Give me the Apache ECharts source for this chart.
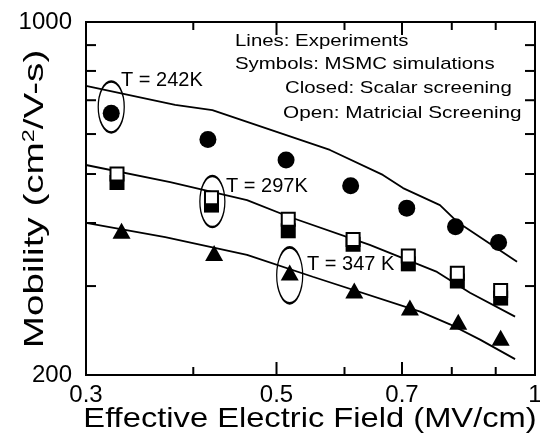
<!DOCTYPE html>
<html>
<head>
<meta charset="utf-8">
<script src="https://cdn.jsdelivr.net/npm/echarts@6/dist/echarts.min.js"></script>
<style>
  html, body { margin: 0; padding: 0; background: #fff; }
  #chart { width: 540px; height: 441px; }
</style>
</head>
<body>
<div id="chart"></div>
<script>
// ---- Simulated (MSMC) points: effective field in MV/cm, mobility in cm2/V-s ----
const fieldT242 = [0.321, 0.416, 0.513, 0.610, 0.709, 0.808, 0.907];
const fieldT297 = [0.326, 0.420, 0.516, 0.614, 0.712, 0.812, 0.912];
const fieldT347 = [0.330, 0.423, 0.518, 0.616, 0.715, 0.814, 0.912];

const mobT242Scalar    = [660, 585, 533, 474, 428, 393, 366];
const mobT297Scalar    = [481, 434, 386, 363, 332, 307, 284];
const mobT297Matricial = [500, 449, 407, 371, 344, 318, 294];
const mobT347Scalar    = [386, 349, 319, 294, 272, 255, 237];

// ---- Measured curves ----
const expFieldT242 = [0.3, 0.381, 0.421, 0.577, 0.665, 0.702, 0.775, 0.812, 0.953];
const expMobT242   = [747, 685, 669, 558, 498, 469, 434, 402, 335];
const expFieldT297 = [0.3, 0.376, 0.462, 0.518, 0.642, 0.769, 0.840, 0.948];
const expMobT297   = [521, 482, 444, 411, 362, 320, 291, 261];
const expFieldT347 = [0.3, 0.371, 0.462, 0.551, 0.735, 0.796, 0.863, 0.948];
const expMobT347   = [400, 375, 346, 313, 267, 252, 235, 215];

// ---- Ellipses that tag one point of each temperature ----
const tagField = [0.321, 0.421, 0.518];
const tagMob   = [679, 441, 315];

// ---- Axis ranges and ticks ----
const xRange = [0.3, 1];
const yRange = [200, 1000];
const xLabelValues = [0.3, 0.5, 0.7, 1];
const xMajorTicks  = [0.5, 0.7];
const xMinorTicks  = [0.4, 0.6, 0.8, 0.9];
const yLabelValues = [200, 1000];
const yTicks       = [300, 400, 500, 600, 700, 800, 900];

const FONT = "'Liberation Sans', Arial, Helvetica, sans-serif";
const lg = Math.log10;
const pts = (xs, ys) => xs.map((x, i) => [x, ys[i]]);
const labelOf = list => v => {
  const t = list.find(t => Math.abs(lg(t) - v) < 1e-9);
  return t === undefined ? '' : String(t);
};

// Label-only axes in log10 units over the same ranges as the data axes.
function labelAxis(range, position, labels, extra) {
  return {
    type: 'value',
    position: position,
    min: lg(range[0]),
    max: lg(range[1]),
    axisLine: { show: false, onZero: false },
    axisTick: { show: false },
    splitLine: { show: false },
    axisLabel: Object.assign({
      show: true,
      customValues: labels.map(lg),
      formatter: labelOf(labels),
      color: '#000',
      fontFamily: FONT,
      fontSize: 24
    }, extra)
  };
}

// Log axes that place the data.
const dataLog = (range, position) => ({
  type: 'log', logBase: 10, min: range[0], max: range[1], position: position,
  axisLine: { show: false, onZero: false }, axisTick: { show: false },
  axisLabel: { show: false }, splitLine: { show: false }, minorTick: { show: false }
});

const textEl = (x, y, text, size, sx) => ({
  type: 'text', x: x, y: y, scaleX: sx || 1,
  style: {
    text: text, fontFamily: FONT, fontSize: size, fill: '#000',
    align: 'left', verticalAlign: 'middle', textAlign: 'left', textVerticalAlign: 'middle'
  }
});

const chart = echarts.init(document.getElementById('chart'), null, { renderer: 'canvas' });

const scatterBase = { type: 'scatter', xAxisIndex: 0, yAxisIndex: 0 };
const lineBase = {
  type: 'line', xAxisIndex: 0, yAxisIndex: 0, symbol: 'none',
  lineStyle: { color: '#000', width: 1.8 }, z: 2
};

chart.setOption({
  animation: false,
  backgroundColor: '#fff',
  grid: { left: 86, right: 5, top: 22, bottom: 66, outerBoundsMode: 'none', containLabel: false },
  xAxis: [
    dataLog(xRange, 'bottom'),
    labelAxis(xRange, 'bottom', xLabelValues, { margin: 8 })
  ],
  yAxis: [
    dataLog(yRange, 'left'),
    labelAxis(yRange, 'left', yLabelValues, { margin: 14, padding: [0, 0, 10, 0] })
  ],
  series: [
    Object.assign({}, lineBase, { name: 'Experiment 242K', data: pts(expFieldT242, expMobT242) }),
    Object.assign({}, lineBase, { name: 'Experiment 297K', data: pts(expFieldT297, expMobT297) }),
    Object.assign({}, lineBase, { name: 'Experiment 347K', data: pts(expFieldT347, expMobT347) }),
    Object.assign({}, scatterBase, {
      name: 'MSMC 297K scalar', data: pts(fieldT297, mobT297Scalar),
      symbol: 'rect', symbolSize: 15, itemStyle: { color: '#000', opacity: 1 }, z: 3
    }),
    Object.assign({}, scatterBase, {
      name: 'MSMC 297K matricial', data: pts(fieldT297, mobT297Matricial),
      symbol: 'rect', symbolSize: 13,
      itemStyle: { color: '#fff', borderColor: '#000', borderWidth: 2, opacity: 1 }, z: 4
    }),
    Object.assign({}, scatterBase, {
      name: 'MSMC 242K scalar', data: pts(fieldT242, mobT242Scalar),
      symbol: 'circle', symbolSize: 17, itemStyle: { color: '#000', opacity: 1 }, z: 4
    }),
    Object.assign({}, scatterBase, {
      name: 'MSMC 347K scalar', data: pts(fieldT347, mobT347Scalar),
      symbol: 'triangle', symbolSize: [18, 16], itemStyle: { color: '#000', opacity: 1 }, z: 4
    }),
    Object.assign({}, scatterBase, {
      name: 'Temperature tags', data: pts(tagField, tagMob),
      symbol: 'path://M0,-1C0.5523,-1,1,-0.5523,1,0C1,0.5523,0.5523,1,0,1C-0.5523,1,-1,0.5523,-1,0C-1,-0.5523,-0.5523,-1,0,-1Z',
      symbolSize: function (val, params) {
        return [[26, 51], [25, 51], [26, 56]][params.dataIndex];
      },
      itemStyle: { color: 'rgba(0,0,0,0)', borderColor: '#000', borderWidth: 1.8, opacity: 1 }, z: 5
    })
  ]
});

// Frame and inward ticks, positioned through the data axes' own scales.
const px = v => chart.convertToPixel({ xAxisIndex: 0 }, v);
const py = v => chart.convertToPixel({ yAxisIndex: 0 }, v);
const plotLeft = px(xRange[0]), plotRight = px(xRange[1]);
const plotTop = py(yRange[1]), plotBottom = py(yRange[0]);
const ink = { stroke: '#000', lineWidth: 2, fill: null };
const seg = (x1, y1, x2, y2) => ({ type: 'line', silent: true, z: 10, shape: { x1, y1, x2, y2 }, style: ink });

const frameEls = [
  { type: 'rect', silent: true, z: 10,
    shape: { x: plotLeft, y: plotTop, width: plotRight - plotLeft, height: plotBottom - plotTop },
    style: { stroke: '#000', lineWidth: 2, fill: null } }
];
xMajorTicks.concat(xMinorTicks).forEach(v => {
  const len = xMajorTicks.indexOf(v) >= 0 ? 13 : 8;
  const x = px(v);
  frameEls.push(seg(x, plotBottom, x, plotBottom - len), seg(x, plotTop, x, plotTop + len));
});
yTicks.forEach(v => {
  const y = py(v);
  frameEls.push(seg(plotLeft, y, plotLeft + 10, y), seg(plotRight, y, plotRight - 10, y));
});

const textEls = [
  // notes
  textEl(235, 41, 'Lines: Experiments', 17, 1.2),
  textEl(235, 64, 'Symbols: MSMC simulations', 17, 1.2),
  textEl(285, 88, 'Closed: Scalar screening', 17, 1.2),
  textEl(283, 113, 'Open: Matricial Screening', 17, 1.22),
  // temperature labels
  textEl(121, 80, 'T = 242K', 20),
  textEl(226, 186, 'T = 297K', 20),
  textEl(307, 264, 'T = 347 K', 20),
  // axis titles
  { type: 'text', x: 310, y: 419, scaleX: 1.167,
    style: { text: 'Effective Electric Field (MV/cm)', fontFamily: FONT, fontSize: 28, fill: '#000',
             align: 'center', verticalAlign: 'middle', textAlign: 'center', textVerticalAlign: 'middle' } },
  { type: 'text', x: 35, y: 199, rotation: Math.PI / 2, scaleX: 1.38,
    style: {
      text: 'Mobility (cm{sup|2}/V-s)', fontFamily: FONT, fontSize: 28, fill: '#000',
      align: 'center', verticalAlign: 'middle', textAlign: 'center', textVerticalAlign: 'middle',
      rich: { sup: { fontFamily: FONT, fontSize: 17, verticalAlign: 'top', fill: '#000' } }
    } }
];

chart.setOption({ graphic: { elements: textEls.concat(frameEls) } });
</script>
</body>
</html>
